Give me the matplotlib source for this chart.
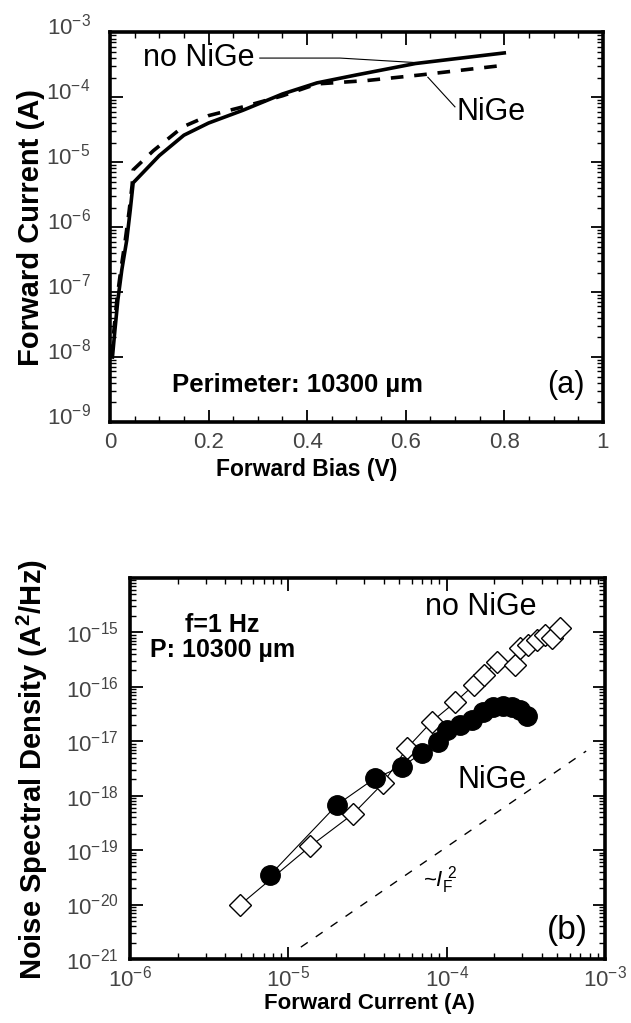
import matplotlib
matplotlib.use('Agg')
import matplotlib.pyplot as plt
from matplotlib.ticker import LogLocator, MultipleLocator, NullFormatter
from matplotlib.transforms import ScaledTranslation

plt.rcParams['font.family'] = ['Liberation Sans', 'DejaVu Sans']
plt.rcParams['mathtext.fontset'] = 'custom'
plt.rcParams['mathtext.rm'] = 'Liberation Sans'
plt.rcParams['mathtext.it'] = 'Liberation Sans:italic'
plt.rcParams['mathtext.default'] = 'regular'

# (a) forward I-V
bias_no_nige = [.005, .01, .016, .024, .034, .041, .047, .1, .15, .2, .27, .35, .42, .5, .62, .7, .8]
curr_no_nige = [1e-8, 2.6e-8, 7.6e-8, 2.2e-7, 6.3e-7, 1.8e-6, 4.8e-6,
                1.26e-5, 2.6e-5, 4e-5, 6.3e-5, 1.12e-4, 1.66e-4, 2.2e-4, 3.3e-4, 3.9e-4, 4.8e-4]
bias_nige = [.003, .008, .014, .022, .031, .039, .045, .047, .088, .148, .2, .27, .35, .42, .52, .63, .74, .8]
curr_nige = [1e-8, 2.6e-8, 7.6e-8, 2.2e-7, 6.3e-7, 1.8e-6, 4.5e-6, 7.6e-6,
             1.5e-5, 3.5e-5, 5.2e-5, 7.1e-5, 1.05e-4, 1.6e-4, 1.8e-4, 2.2e-4, 2.75e-4, 3.1e-4]

# (b) noise spectral density vs forward current
if_no_nige = [4.95e-6, 1.37e-5, 2.56e-5, 3.97e-5, 5.6e-5, 8.05e-5, 1.13e-4, 1.48e-4, 1.71e-4, 2.07e-4,
              2.7e-4, 2.91e-4, 3.28e-4, 3.71e-4, 4.18e-4, 4.6e-4, 5.2e-4]
sn_no_nige = [9.8e-21, 1.17e-19, 4.6e-19, 1.7e-18, 7.4e-18, 2.3e-17, 5.2e-17, 1.07e-16, 1.65e-16, 2.9e-16,
              2.5e-16, 5.1e-16, 5.9e-16, 7.2e-16, 8.9e-16, 7.8e-16, 1.2e-15]
if_nige = [7.66e-6, 2.03e-5, 3.53e-5, 5.2e-5, 7.0e-5, 8.8e-5, 1.0e-4, 1.22e-4, 1.45e-4, 1.7e-4,
           1.96e-4, 2.27e-4, 2.59e-4, 2.91e-4, 3.22e-4]
sn_nige = [3.47e-20, 6.8e-19, 2.1e-18, 3.4e-18, 6.1e-18, 9.8e-18, 1.6e-17, 2.0e-17, 2.45e-17, 3.5e-17,
           4.3e-17, 4.5e-17, 4.3e-17, 3.7e-17, 2.9e-17]
# ~I_F^2 guide line
if_guide = [1.2e-5, 7.6e-4]
sn_guide = [1.65e-21, 6.6e-18]

fig = plt.figure(figsize=(6.31, 10.23), dpi=100)
ax1 = fig.add_axes([0.1743, 0.5875, 0.781, 0.381])
ax2 = fig.add_axes([0.206, 0.0626, 0.7528, 0.3724])

for ax in (ax1, ax2):
    for s in ax.spines.values():
        s.set_linewidth(2.6)
    ax.tick_params(which='both', direction='in', top=True, right=True, colors='black',
                   labelcolor='#444444', labelsize=16)
    ax.tick_params(which='major', length=9, width=1.3)
    ax.tick_params(which='minor', length=4.5, width=1.0)
ax1.tick_params(axis='x', pad=7)
ax1.tick_params(axis='y', pad=14)
ax2.tick_params(axis='x', pad=5)
ax2.tick_params(axis='y', pad=8)

# ---- panel (a)
ax1.plot(bias_no_nige, curr_no_nige, color='black', lw=2.6)
ax1.plot(bias_nige, curr_nige, color='black', lw=2.6, linestyle=(0, (3.5, 3)))
ax1.set_yscale('log')
ax1.set_xlim(0, 1)
ax1.set_ylim(1e-9, 1e-3)
ax1.set_xticks([0, 0.2, 0.4, 0.6, 0.8, 1])
ax1.set_xticklabels(['0', '0.2', '0.4', '0.6', '0.8', '1'])
ax1.xaxis.set_minor_locator(MultipleLocator(0.05))
ax1.yaxis.set_major_locator(LogLocator(base=10, numticks=20))
ax1.yaxis.set_minor_locator(LogLocator(base=10, subs=range(2, 10), numticks=20))
ax1.yaxis.set_minor_formatter(NullFormatter())
ax1.set_xlabel('Forward Bias (V)', fontsize=16.5, fontweight='bold')
ax1.set_ylabel('Forward Current (A)', fontsize=21, fontweight='bold')
ax1.xaxis.set_label_coords(0.40, -0.092)
ax1.yaxis.set_label_coords(-0.132, 0.5)
# the y labels of (a) sit a little above their ticks
for lab in ax1.get_yticklabels():
    lab.set_transform(lab.get_transform() + ScaledTranslation(0, 8 / 100, fig.dpi_scale_trans))

ax1.text(0.18, 0.933, 'no NiGe', transform=ax1.transAxes, fontsize=22, ha='center', va='center')
ax1.plot([0.304, 0.467, 0.623], [4.0e-4, 4.0e-4, 3.4e-4], color='black', lw=0.8)
ax1.text(0.773, 0.795, 'NiGe', transform=ax1.transAxes, fontsize=22, ha='center', va='center')
ax1.plot([0.645, 0.70], [2.03e-4, 7.1e-5], color='black', lw=0.8)
ax1.text(0.38, 0.095, 'Perimeter: 10300 \u00b5m', transform=ax1.transAxes, fontsize=18.5,
         fontweight='bold', ha='center', va='center')
ax1.text(0.925, 0.095, '(a)', transform=ax1.transAxes, fontsize=22, ha='center', va='center')

# ---- panel (b)
ax2.plot(if_no_nige, sn_no_nige, color='black', lw=0.8, marker='D', markersize=11,
         markerfacecolor='white', markeredgecolor='black', markeredgewidth=1.0)
ax2.plot(if_nige, sn_nige, color='black', lw=0.8, marker='o', markersize=14,
         markerfacecolor='black', markeredgecolor='black')
ax2.plot(if_guide, sn_guide, color='black', lw=1.0, linestyle=(0, (6, 7)))
ax2.set_xscale('log')
ax2.set_yscale('log')
ax2.set_xlim(1e-6, 1e-3)
ax2.set_ylim(1e-21, 1e-14)
for axis in (ax2.xaxis, ax2.yaxis):
    axis.set_major_locator(LogLocator(base=10, numticks=20))
    axis.set_minor_locator(LogLocator(base=10, subs=range(2, 10), numticks=20))
    axis.set_minor_formatter(NullFormatter())
ax2.set_yticks([1e-21, 1e-20, 1e-19, 1e-18, 1e-17, 1e-16, 1e-15])
ax2.set_xlabel('Forward Current (A)', fontsize=16, fontweight='bold')
ax2.set_ylabel('Noise Spectral Density (A$^2$/Hz)', fontsize=21, fontweight='bold')
ax2.xaxis.set_label_coords(0.505, -0.089)
ax2.yaxis.set_label_coords(-0.168, 0.496)

ax2.text(0.739, 0.924, 'no NiGe', transform=ax2.transAxes, fontsize=22, ha='center', va='center')
ax2.text(0.762, 0.47, 'NiGe', transform=ax2.transAxes, fontsize=22, ha='center', va='center')
ax2.text(0.194, 0.877, 'f=1 Hz', transform=ax2.transAxes, fontsize=18, fontweight='bold',
         ha='center', va='center')
ax2.text(0.194, 0.811, 'P: 10300 \u00b5m', transform=ax2.transAxes, fontsize=18, fontweight='bold',
         ha='center', va='center')
ax2.text(0.653, 0.207, r'~$\mathit{I}_F^{\;2}$', transform=ax2.transAxes, fontsize=16,
         ha='center', va='center')
ax2.text(0.92, 0.076, '(b)', transform=ax2.transAxes, fontsize=24, ha='center', va='center')

fig.savefig('out.png', dpi=100)
